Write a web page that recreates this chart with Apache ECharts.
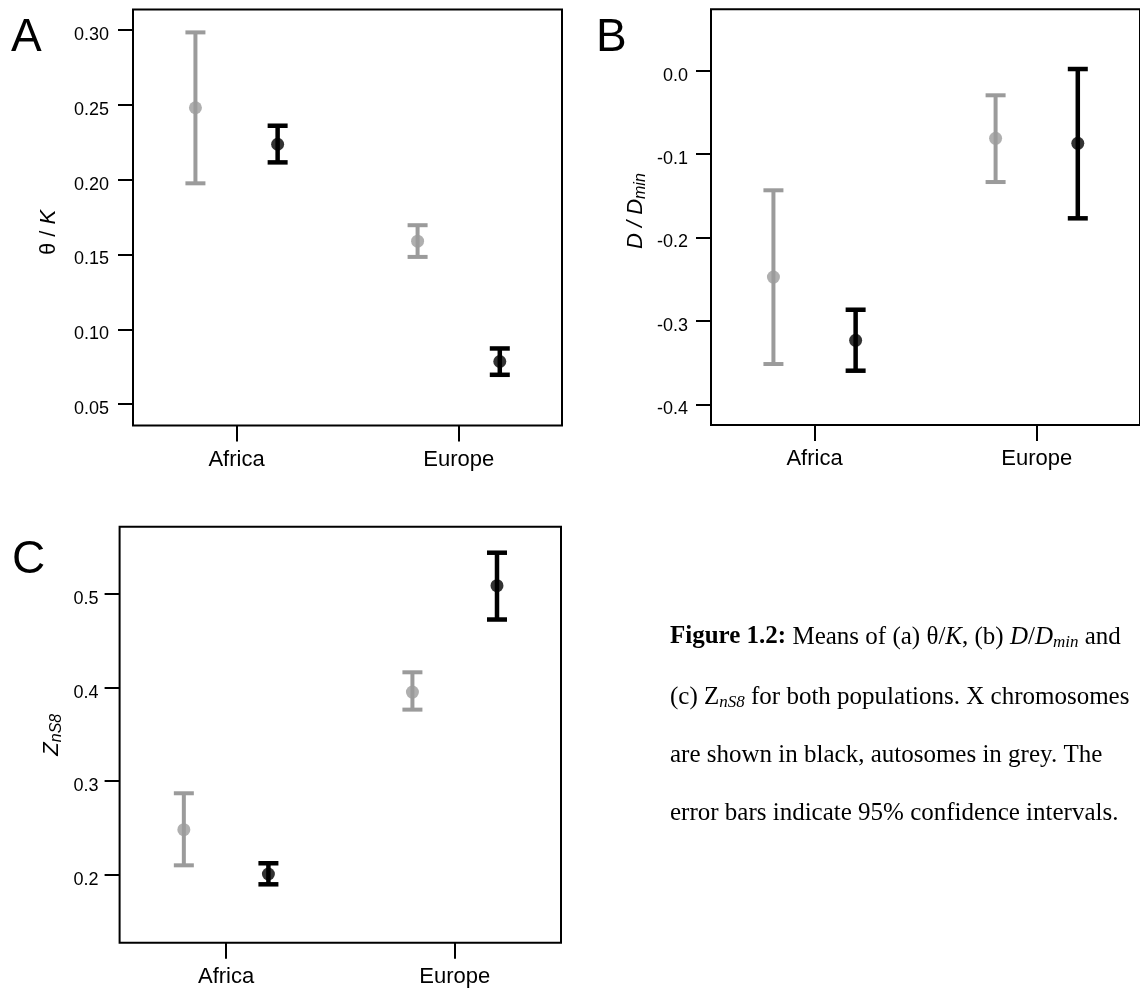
<!DOCTYPE html>
<html>
<head>
<meta charset="utf-8">
<script src="https://cdn.jsdelivr.net/npm/echarts@6/dist/echarts.min.js"></script>
<style>html,body{margin:0;padding:0;background:#fff}#c{width:1140px;height:989px}</style>
</head>
<body>
<div id="c"></div>
<script>
// ---------- data ----------
const categories = ['Africa', 'Europe'];
const groupOffset = 0.185; // autosomes left of category, X chromosomes right

// Panel A: theta / K
const aAutoMean = [0.2481, 0.1589];
const aAutoLow  = [0.1976, 0.1484];
const aAutoHigh = [0.2985, 0.1696];
const aXMean    = [0.2237, 0.0785];
const aXLow     = [0.2116, 0.0696];
const aXHigh    = [0.2361, 0.0872];
const aTicks    = [0.05, 0.10, 0.15, 0.20, 0.25, 0.30];

// Panel B: D / Dmin
const bAutoMean = [-0.2474, -0.0811];
const bAutoLow  = [-0.3517, -0.1335];
const bAutoHigh = [-0.1434, -0.0295];
const bXMean    = [-0.3233, -0.0871];
const bXLow     = [-0.3597, -0.1770];
const bXHigh    = [-0.2866, 0.0020];
const bTicks    = [-0.4, -0.3, -0.2, -0.1, 0.0];

// Panel C: ZnS8
const cAutoMean = [0.2481, 0.3952];
const cAutoLow  = [0.2100, 0.3764];
const cAutoHigh = [0.2870, 0.4163];
const cXMean    = [0.2007, 0.5089];
const cXLow     = [0.1897, 0.4727];
const cXHigh    = [0.2122, 0.5441];
const cTicks    = [0.2, 0.3, 0.4, 0.5];

// ---------- styling ----------
const SANS = '"Liberation Sans", Arial, Helvetica, sans-serif';
const SERIF = '"Liberation Serif", "Times New Roman", serif';
const GREY = '#9b9b9b';
const BLACK = '#000';

const chart = echarts.init(document.getElementById('c'), null, {renderer: 'canvas'});

function errRender(color, lw) {
  return function (params, api) {
    const x = api.value(0), lo = api.value(1), hi = api.value(2);
    const pLo = api.coord([x, lo]);
    const pHi = api.coord([x, hi]);
    const hw = 10;
    const st = {stroke: color, lineWidth: lw};
    return {
      type: 'group',
      children: [
        {type: 'line', shape: {x1: pLo[0], y1: pLo[1], x2: pHi[0], y2: pHi[1]}, style: st},
        {type: 'line', shape: {x1: pHi[0] - hw, y1: pHi[1], x2: pHi[0] + hw, y2: pHi[1]}, style: st},
        {type: 'line', shape: {x1: pLo[0] - hw, y1: pLo[1], x2: pLo[0] + hw, y2: pLo[1]}, style: st}
      ]
    };
  };
}

function xPos(i, side) { return i + 1 + side * groupOffset; }

function buildSeries(idx, autoMean, autoLow, autoHigh, xMean, xLow, xHigh) {
  const autoErr = autoMean.map((m, i) => [xPos(i, -1), autoLow[i], autoHigh[i]]);
  const xErr = xMean.map((m, i) => [xPos(i, 1), xLow[i], xHigh[i]]);
  const autoPts = autoMean.map((m, i) => [xPos(i, -1), m]);
  const xPts = xMean.map((m, i) => [xPos(i, 1), m]);
  return [
    {type: 'custom', xAxisIndex: idx, yAxisIndex: idx, renderItem: errRender(GREY, 4), data: autoErr, silent: true, z: 2},
    {type: 'custom', xAxisIndex: idx, yAxisIndex: idx, renderItem: errRender(BLACK, 4.5), data: xErr, silent: true, z: 2},
    {type: 'scatter', xAxisIndex: idx, yAxisIndex: idx, data: autoPts, symbolSize: 13, itemStyle: {color: GREY}, silent: true, z: 3},
    {type: 'scatter', xAxisIndex: idx, yAxisIndex: idx, data: xPts, symbolSize: 13, itemStyle: {color: BLACK}, silent: true, z: 3}
  ];
}

function xAxisCfg(idx) {
  return {
    type: 'value', gridIndex: idx, min: 0.534, max: 2.465, position: 'bottom',
    axisLine: {show: false, onZero: false},
    splitLine: {show: false},
    axisTick: {show: true, inside: false, length: 16, lineStyle: {color: BLACK, width: 2}, customValues: [1, 2]},
    axisLabel: {
      customValues: [1, 2], margin: 23,
      fontFamily: SANS, fontSize: 22, color: BLACK,
      formatter: v => categories[Math.round(v) - 1]
    }
  };
}

function yAxisCfg(idx, min, max, ticks, dec, margin, name, nameGap, namePad, rich) {
  return {
    type: 'value', gridIndex: idx, min: min, max: max, position: 'left',
    axisLine: {show: false, onZero: false},
    splitLine: {show: false},
    axisTick: {show: true, inside: false, length: 15, lineStyle: {color: BLACK, width: 2}, customValues: ticks},
    axisLabel: {
      customValues: ticks, margin: margin,
      fontFamily: SANS, fontSize: 18, color: BLACK,
      verticalAlign: 'top', lineHeight: 10,
      formatter: v => Number(v).toFixed(dec)
    },
    name: name, nameLocation: 'middle', nameRotate: 90, nameGap: nameGap,
    nameTextStyle: {fontFamily: SANS, fontSize: 22, color: BLACK, padding: namePad, rich: rich, lineHeight: 26}
  };
}

const nameRich = {
  i: {fontFamily: SANS, fontSize: 22, fontStyle: 'italic', color: BLACK, lineHeight: 26},
  sub: {fontFamily: SANS, fontSize: 16, fontStyle: 'italic', color: BLACK, lineHeight: 16, verticalAlign: 'bottom'}
};

const gridBase = {show: true, borderColor: BLACK, borderWidth: 2, backgroundColor: 'transparent', containLabel: false};

const capFs = 25;
const capLH = 28;
const capRich = {
  b: {fontFamily: SERIF, fontSize: capFs, fontWeight: 'bold', color: BLACK, lineHeight: capLH},
  r: {fontFamily: SERIF, fontSize: capFs, color: BLACK, lineHeight: capLH},
  i: {fontFamily: SERIF, fontSize: capFs, fontStyle: 'italic', color: BLACK, lineHeight: capLH},
  sub: {fontFamily: SERIF, fontSize: 17, fontStyle: 'italic', color: BLACK, lineHeight: 17, verticalAlign: 'bottom'}
};
const captionLines = [
  '{b|Figure 1.2:}{r| Means of (a) θ/}{i|K}{r|, (b) }{i|D}{r|/}{i|D}{sub|min}{r| and}',
  '{r|(c) Z}{sub|nS8}{r| for both populations. X chromosomes}',
  '{r|are shown in black, autosomes in grey. The}',
  '{r|error bars indicate 95% confidence intervals.}'
];
const captionTops = [623, 683, 741, 799];

const option = {
  backgroundColor: '#fff',
  animation: false,
  grid: [
    Object.assign({left: 133, top: 9.5, width: 429, height: 416}, gridBase),
    Object.assign({left: 711, top: 9.3, width: 436, height: 415.7}, gridBase),
    Object.assign({left: 119.6, top: 526.7, width: 441.4, height: 416}, gridBase)
  ],
  xAxis: [xAxisCfg(0), xAxisCfg(1), xAxisCfg(2)],
  yAxis: [
    yAxisCfg(0, 0.0357, 0.3138, aTicks, 2, 24, 'θ / {i|K}', 71, [0, 30, 0, 0], nameRich),
    yAxisCfg(1, -0.4248, 0.0736, bTicks, 1, 23, '{i|D / D}{sub|min}', 62, [0, 0, 0, 12], nameRich),
    yAxisCfg(2, 0.1273, 0.5719, cTicks, 1, 21, '{i|Z}{sub|nS8}', 55, [0, 0, 0, 0], nameRich)
  ],
  series: [].concat(
    buildSeries(0, aAutoMean, aAutoLow, aAutoHigh, aXMean, aXLow, aXHigh),
    buildSeries(1, bAutoMean, bAutoLow, bAutoHigh, bXMean, bXLow, bXHigh),
    buildSeries(2, cAutoMean, cAutoLow, cAutoHigh, cXMean, cXLow, cXHigh)
  ),
  graphic: [
    {type: 'text', left: 11, top: 15, style: {text: 'A', fontFamily: SANS, fontSize: 46, fill: BLACK}},
    {type: 'text', left: 596, top: 15, style: {text: 'B', fontFamily: SANS, fontSize: 46, fill: BLACK}},
    {type: 'text', left: 12, top: 537, style: {text: 'C', fontFamily: SANS, fontSize: 46, fill: BLACK}}
  ].concat(captionLines.map((t, k) => ({
    type: 'text', left: 670, top: captionTops[k],
    style: {text: t, rich: capRich, fontFamily: SERIF, fontSize: capFs, fill: BLACK, lineHeight: capLH}
  })))
};
chart.setOption(option);
</script>
</body>
</html>
